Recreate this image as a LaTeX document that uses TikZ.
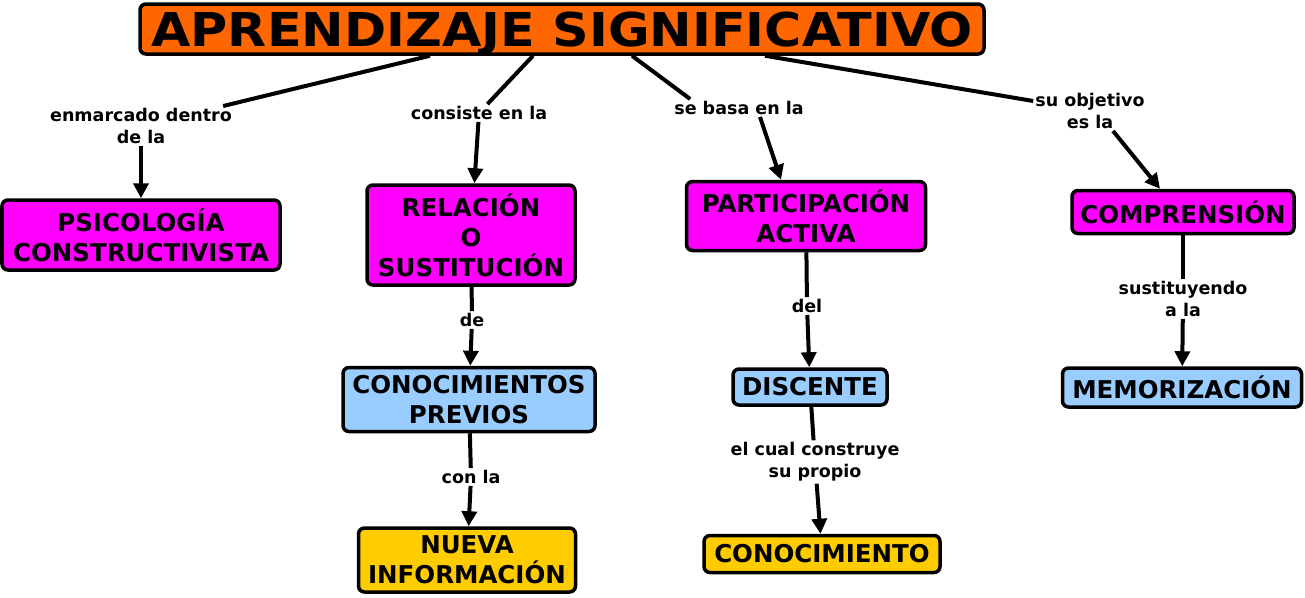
\documentclass[tikz,border=0pt]{standalone}
\usepackage{fontspec}
\setmainfont{DejaVu Sans}
\usetikzlibrary{positioning,arrows.meta}
\definecolor{naranja}{HTML}{FF6600}
\definecolor{magenta}{HTML}{FF00FF}
\definecolor{celeste}{HTML}{99CCFF}
\definecolor{oro}{HTML}{FFCC00}

\begin{document}
\begin{tikzpicture}[x=1pt, y=-1pt, >={Triangle[length=15pt,width=15pt]},
  box/.style={draw, line width=3.5pt, rounded corners=6pt, align=center, inner sep=0pt,
    font=\bfseries\fontsize{24.5}{30}\selectfont},
  lbl/.style={fill=white, align=center, inner sep=2pt, font=\bfseries\fontsize{17.5}{22}\selectfont},
  con/.style={line width=4pt}]
\useasboundingbox (0,0) rectangle (1305,597);
\node[box, fill=naranja, minimum width=844pt, minimum height=50pt, text depth=0pt] (titulo) at (562,29)
  {\scalebox{1.09}[1]{\fontsize{46.6}{50}\selectfont APRENDIZAJE SIGNIFICATIVO}};
% primer nivel
\node[box, fill=magenta, minimum width=278pt, minimum height=70pt] (psico) at (141,235) {PSICOLOGÍA\\CONSTRUCTIVISTA};
\node[box, fill=magenta, minimum width=208pt, minimum height=100pt] (relacion) at (471,235) {RELACIÓN\\O\\SUSTITUCIÓN};
\node[box, fill=magenta, minimum width=239pt, minimum height=69pt] (partic) at (806,216) {PARTICIPACIÓN\\ACTIVA};
\node[box, fill=magenta, minimum width=222pt, minimum height=43pt] (compren) at (1183,212) {COMPRENSIÓN};
% niveles inferiores
\node[box, fill=celeste, minimum width=252pt, minimum height=64pt, below=79pt of relacion, xshift=-2pt] (previos) {CONOCIMIENTOS\\PREVIOS};
\node[box, fill=oro, minimum width=217pt, minimum height=64pt, below=93pt of previos, xshift=-2pt] (nueva) {NUEVA\\INFORMACIÓN};
\node[box, fill=celeste, minimum width=154pt, minimum height=36pt, below=115pt of partic, xshift=4pt] (discente) {DISCENTE};
\node[box, fill=oro, minimum width=236pt, minimum height=37pt, below=127pt of discente, xshift=12pt] (conocim) {CONOCIMIENTO};
\node[box, fill=celeste, minimum width=239pt, minimum height=39pt, below=131pt of compren, xshift=-1pt] (memoriz) {MEMORIZACIÓN};
% enlaces
\node[lbl] (lenm) at (141,126) {enmarcado dentro\\de la};
\node[lbl] (lcons) at (479,113) {consiste en la};
\node[lbl] (lbasa) at (739,108) {se basa en la};
\node[lbl] (lobj) at (1090,111) {su objetivo\\es la};
\node[lbl] (lde) at (472,320) {de};
\node[lbl] (lcon) at (471,477) {con la};
\node[lbl] (ldel) at (807,306) {del};
\node[lbl] (lcual) at (815,462) {el cual construye\\su propio};
\node[lbl] (lsust) at (1183,299) {sustituyendo\\a la};
\draw[con] ([xshift=-132pt]titulo.south) -- (lenm);
\draw[con,->] (lenm) -- (psico);
\draw[con] ([xshift=-29pt]titulo.south) -- (lcons);
\draw[con,->] (lcons) -- (relacion);
\draw[con] ([xshift=70pt]titulo.south) -- ([xshift=18pt]lbasa.north west);
\draw[con,->] ([xshift=21pt]lbasa.south) -- ([xshift=-25pt]partic.north);
\draw[con] ([xshift=203pt]titulo.south) -- ([yshift=10pt]lobj.west);
\draw[con,->] ([xshift=23pt]lobj.south) -- ([xshift=-23pt]compren.north);
\draw[con] (relacion) -- (lde); \draw[con,->] (lde) -- (previos);
\draw[con] (previos) -- (lcon); \draw[con,->] (lcon) -- (nueva);
\draw[con] (partic) -- (ldel); \draw[con,->] (ldel) -- (discente);
\draw[con] (discente) -- (lcual); \draw[con,->] (lcual) -- (conocim);
\draw[con] (compren) -- (lsust); \draw[con,->] (lsust) -- (memoriz);
\end{tikzpicture}
\end{document}
